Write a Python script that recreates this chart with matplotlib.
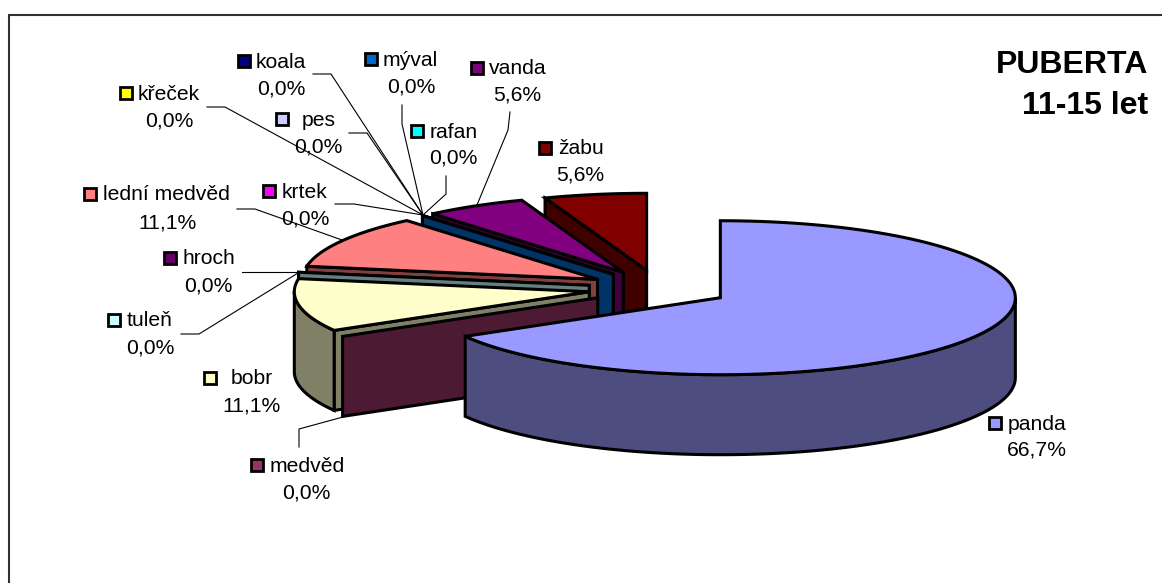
import numpy as np
import matplotlib
matplotlib.use("Agg")
import matplotlib.pyplot as plt
from matplotlib.patches import Polygon, Rectangle
from matplotlib.colors import to_rgb

plt.rcParams['font.family'] = ['Liberation Sans', 'DejaVu Sans']

# ---- data ----
categories = ["panda", "medvěd", "bobr", "tuleň", "hroch", "lední medvěd", "krtek",
              "křeček", "pes", "koala", "mýval", "rafan", "vanda", "žabu"]
values = [66.7, 0.0, 11.1, 0.0, 0.0, 11.1, 0.0, 0.0, 0.0, 0.0, 0.0, 0.0, 5.6, 5.6]
colors = ["#9999FF", "#993366", "#FFFFCC", "#CCFFFF", "#660066", "#FF8080", "#FF00FF",
          "#FFFF00", "#CCCCFF", "#000080", "#0066CC", "#00FFFF", "#800080", "#800000"]
title_lines = ["PUBERTA", "11-15 let"]

# ---- layout (pixels) ----
W, H = 1162, 583
CX, CY, RX, RY, DEPTH, EXPLODE = 659, 288.5, 295, 77, 80, 0.24
FS = 15.2
# painter's order of the slices, back to front
draw_order = ["žabu", "vanda", "rafan", "koala", "pes", "křeček", "krtek", "mýval",
              "lední medvěd", "hroch", "tuleň", "bobr", "medvěd", "panda"]
# category: key centre, text-left x, first-line y, second-line centre x, second-line y
label_pos = {
    "koala": (244, 61, 256, 61, 281, 88),
    "mýval": (371, 59, 383, 59, 411, 86),
    "vanda": (477, 68, 489, 68, 517, 94),
    "žabu": (545, 148, 558, 148, 580, 174),
    "rafan": (417, 131, 430, 131, 453, 157),
    "křeček": (126, 93, 138, 93, 169, 120),
    "pes": (282, 119, 302, 119, 318, 146),
    "krtek": (269, 191, 282, 191, 305, 218),
    "lední medvěd": (90, 194, 103, 194, 167, 222),
    "hroch": (170, 258, 182, 258, 208, 285),
    "tuleň": (114, 320, 127, 320, 150, 347),
    "bobr": (210, 378, 231, 378, 252, 405),
    "medvěd": (257, 465, 270, 465, 306, 492),
    "panda": (995, 423, 1008, 423, 1037, 449),
}
leaders = [
    [(313, 74), (331, 74), (423, 215)],
    [(207, 107), (225, 107), (423, 215)],
    [(349, 133), (367, 133), (423, 215)],
    [(402, 105), (402, 124), (423, 215)],
    [(446, 176), (446, 194), (423, 215)],
    [(335, 204), (354, 204), (423, 215)],
    [(237, 209), (255, 209), (342, 240)],
    [(510, 112), (508, 130), (477, 205)],
    [(242, 272), (260, 272), (298, 272)],
    [(181, 334), (199, 334), (298, 273)],
    [(299, 447), (299, 429), (343, 417)],
]

fig = plt.figure(figsize=(W / 100, H / 100), dpi=100)
ax = fig.add_axes([0, 0, 1, 1])
ax.set_xlim(0, W)
ax.set_ylim(H, 0)
ax.axis("off")

ax.add_patch(Rectangle((8.5, 14.5), W + 20, H + 20, fc="white", ec="#303030", lw=1.5, zorder=0))


def pt(cx, cy, a):
    """Point on the ellipse; a is degrees clockwise from 12 o'clock (array allowed)."""
    r = np.radians(a)
    return np.column_stack([cx + RX * np.sin(r), cy - RY * np.cos(r)])


def dark(c):
    return tuple(0.5 * v for v in to_rgb(c))


total = sum(values)
edges = np.concatenate([[0], np.cumsum(values) / total * 360])
slices = {}
for i, (name, v, col) in enumerate(zip(categories, values, colors)):
    a0, a1 = edges[i], edges[i + 1]
    m = np.radians((a0 + a1) / 2)
    cx = CX + EXPLODE * RX * np.sin(m)
    cy = CY - EXPLODE * RY * np.cos(m)
    slices[name] = (cx, cy, a0, a1, col)

EDGE = dict(ec="black", lw=2.2, joinstyle="miter")
z = 2
for name in draw_order:
    cx, cy, a0, a1, col = slices[name]
    wall = dark(col)
    # straight cut wall at the start angle (faces the viewer for the left-hand slices)
    if name != "panda":
        o = pt(cx, cy, a0)[0]
        ax.add_patch(Polygon([(cx, cy), o, (o[0], o[1] + DEPTH), (cx, cy + DEPTH)],
                             fc=wall, zorder=z, **EDGE))
        z += 1
    # outer rim: only the part on the front half of the ellipse
    lo, hi = max(a0, 90), min(a1, 270)
    if hi > lo:
        arc = pt(cx, cy, np.linspace(lo, hi, 80))
        low = arc + [0, DEPTH]
        ax.add_patch(Polygon(np.vstack([arc, low[::-1]]), fc=wall, zorder=z, **EDGE))
        z += 1
    # top surface
    if a1 > a0:
        arc = pt(cx, cy, np.linspace(a0, a1, 120))
        ax.add_patch(Polygon(np.vstack([[(cx, cy)], arc]), fc=col, zorder=z, **EDGE))
        z += 1

for line in leaders:
    xs, ys = zip(*line)
    ax.plot(xs, ys, color="black", lw=0.8, zorder=1, solid_joinstyle="miter")

for name, v, col in zip(categories, values, colors):
    kx, ky, tx, ty, vx, vy = label_pos[name]
    ax.add_patch(Rectangle((kx - 6, ky - 6), 12, 12, fc=col, ec="black", lw=2.0, zorder=60))
    ax.text(tx, ty + 1, name, fontsize=FS, ha="left", va="center", color="black", zorder=61)
    ax.text(vx, vy + 1, f"{v:.1f}%".replace(".", ","), fontsize=FS, ha="center", va="center",
            color="black", zorder=61)

ax.text(1148, 65, title_lines[0], fontsize=23, fontweight="bold", ha="right", va="center", zorder=61)
ax.text(1148, 106, title_lines[1], fontsize=23, fontweight="bold", ha="right", va="center", zorder=61)

fig.savefig("out.png", dpi=100)
